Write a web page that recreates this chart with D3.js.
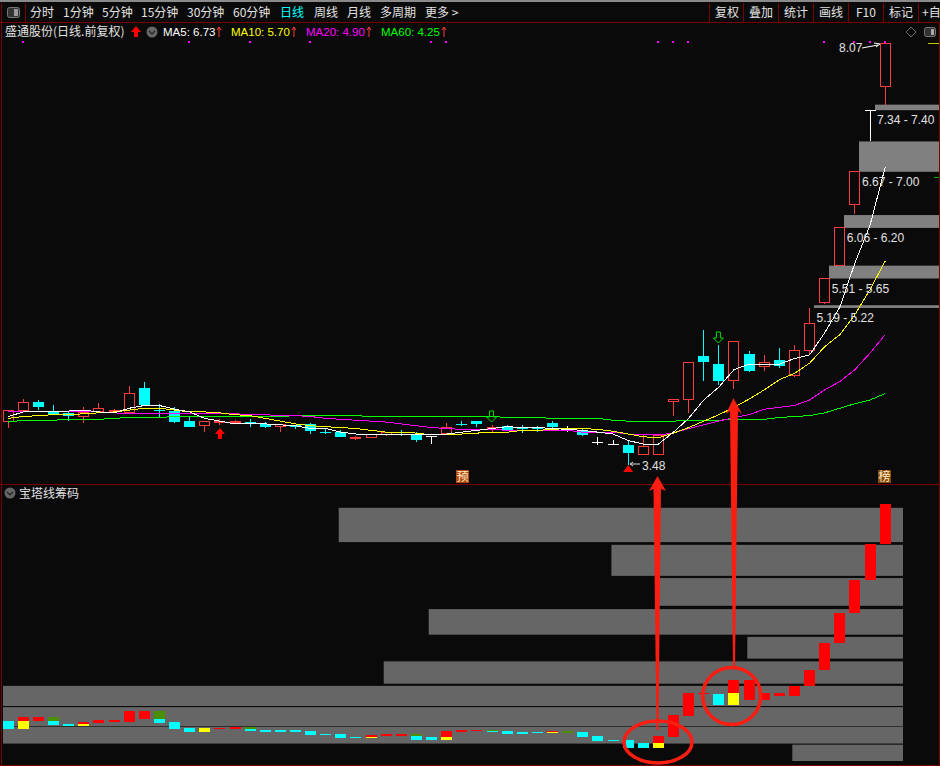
<!DOCTYPE html>
<html>
<head>
<meta charset="utf-8">
<script src="https://cdn.jsdelivr.net/npm/d3@7"></script>
<style>
  html, body { margin: 0; padding: 0; background: #0a0a0a; overflow: hidden; }
  svg { display: block; }
  text { font-family: "Liberation Sans", sans-serif; font-size: 12px; }
  .cjk { font-family: "Noto Sans CJK SC", sans-serif; }
  .ma { font-size: 11.5px; }
</style>
</head>
<body>
<script>
const width = 940,
  height = 766;

// daily candles, prices
const opens = [3.96,4.08,4.17,4.06,4.05,4.01,4.07,4.06,4.05,4.32,4.08,4.07,3.96,3.91,3.94,3.95,3.95,3.93,3.90,3.92,3.93,3.84,3.84,3.77,3.78,3.82,3.84,3.82,3.79,3.83,3.93,3.96,3.87,3.91,3.88,3.88,3.94,3.87,3.86,3.73,3.71,3.70,3.60,3.60,4.17,4.19,4.67,4.58,4.40,4.69,4.55,4.62,4.46,4.73,5.25,5.65,6.31,7.34,7.60];
const closes = [4.08,4.16,4.11,4.04,4.02,4.05,4.10,4.08,4.26,4.13,4.07,3.95,3.90,3.96,3.96,3.96,3.94,3.90,3.92,3.90,3.85,3.83,3.79,3.78,3.81,3.84,3.83,3.76,3.79,3.89,3.92,3.93,3.89,3.86,3.87,3.87,3.90,3.87,3.81,3.73,3.71,3.61,3.68,3.80,4.19,4.60,4.60,4.40,4.83,4.50,4.60,4.56,4.73,5.02,5.51,6.06,6.67,7.34,8.07];
const highs = [4.08,4.20,4.19,4.13,4.07,4.11,4.16,4.09,4.34,4.38,4.15,4.11,4.00,3.96,3.98,3.97,3.98,3.95,3.93,3.92,3.94,3.87,3.86,3.80,3.81,3.84,3.86,3.84,3.80,3.94,3.96,3.96,3.92,3.92,3.92,3.91,3.96,3.91,3.88,3.79,3.76,3.74,3.81,3.81,4.19,4.60,4.95,4.79,4.83,4.72,4.68,4.76,4.79,5.19,5.51,6.06,6.67,7.34,8.07];
const lows = [3.89,4.06,4.08,4.04,3.96,3.94,4.07,4.06,4.04,4.13,4.00,3.94,3.90,3.84,3.92,3.94,3.90,3.88,3.84,3.87,3.82,3.82,3.79,3.75,3.78,3.80,3.80,3.73,3.71,3.83,3.91,3.90,3.84,3.85,3.83,3.84,3.89,3.84,3.80,3.70,3.71,3.48,3.60,3.60,4.02,4.05,4.40,4.35,4.31,4.49,4.50,4.54,4.44,4.68,5.23,5.65,6.21,7.00,7.40];

// moving averages
const ma5 = [4.01,4.06,4.07,4.07,4.07,4.08,4.06,4.05,4.10,4.13,4.13,4.09,4.06,3.99,3.96,3.93,3.93,3.93,3.92,3.91,3.88,3.88,3.84,3.82,3.82,3.82,3.81,3.81,3.82,3.82,3.84,3.86,3.88,3.90,3.89,3.89,3.88,3.87,3.86,3.84,3.82,3.75,3.71,3.71,3.84,3.99,4.19,4.33,4.52,4.58,4.58,4.58,4.64,4.68,4.92,5.20,5.68,6.09,6.72];
const ma10 = [3.99,4.01,4.02,4.03,4.03,4.04,4.05,4.06,4.08,4.10,4.10,4.08,4.06,4.06,4.05,4.03,4.02,3.99,3.96,3.93,3.91,3.90,3.89,3.88,3.86,3.84,3.84,3.83,3.81,3.82,3.82,3.83,3.84,3.84,3.86,3.86,3.87,3.88,3.88,3.87,3.85,3.82,3.79,3.78,3.83,3.89,3.96,4.03,4.11,4.20,4.30,4.41,4.48,4.59,4.77,4.90,5.12,5.39,5.70];
const ma20 = [4.07,4.07,4.07,4.07,4.07,4.06,4.06,4.05,4.04,4.04,4.04,4.04,4.04,4.04,4.04,4.04,4.03,4.03,4.02,4.02,4.01,3.99,3.98,3.97,3.96,3.95,3.93,3.91,3.89,3.88,3.87,3.87,3.87,3.86,3.86,3.86,3.86,3.86,3.84,3.84,3.84,3.82,3.82,3.81,3.83,3.88,3.92,3.96,4.00,4.03,4.09,4.11,4.13,4.19,4.30,4.39,4.52,4.70,4.90];
const ma60 = [3.95,3.97,3.97,3.97,3.98,3.98,3.98,3.99,4.00,4.00,4.00,4.01,4.01,4.01,4.01,4.01,4.01,4.01,4.01,4.02,4.02,4.02,4.02,4.02,4.01,4.01,4.01,4.01,4.01,4.01,4.01,4.01,4.01,4.00,4.00,4.00,3.99,3.99,3.99,3.99,3.97,3.96,3.96,3.96,3.96,3.97,3.97,3.97,3.98,3.98,3.98,4.00,4.01,4.02,4.05,4.10,4.15,4.19,4.26];

// gaps marked on the price chart
const bandDay = [57,56,55,54,53];
const bandLow = [7.34,6.67,6.06,5.51,5.19];
const bandHigh = [7.40,7.00,6.20,5.65,5.22];

// days with a magenta dot along the top
const dotDays = [1,12,16,20,28,29,43,44,45,54,56,57,58];

// pagoda blocks of the lower panel: upper part high-mid, lower part mid-low
const towerHigh = [4.09,4.16,4.16,4.16,4.03,4.07,4.10,4.10,4.27,4.27,4.27,4.07,3.96,3.96,3.96,3.97,3.97,3.92,3.92,3.92,3.90,3.85,3.85,3.79,3.83,3.85,3.85,3.85,3.79,3.90,3.92,3.92,3.92,3.90,3.88,3.88,3.90,3.90,3.88,3.81,3.74,3.74,3.68,3.81,4.19,4.60,4.60,4.58,4.84,4.84,4.60,4.60,4.73,5.02,5.52,6.07,6.67,7.34,8.07];
const towerMid = [3.94,4.09,4.09,4.09,3.99,4.03,4.05,4.07,4.07,4.12,4.12,3.94,3.88,3.88,3.94,3.94,3.94,3.88,3.88,3.88,3.83,3.83,3.77,3.77,3.79,3.81,3.81,3.81,3.74,3.79,3.88,3.90,3.90,3.85,3.85,3.86,3.88,3.86,3.79,3.72,3.72,3.59,3.59,3.68,3.79,4.18,4.58,4.38,4.60,4.47,4.47,4.54,4.54,4.73,5.02,5.52,6.07,6.67,7.34];
const towerLow = [3.94,3.94,4.09,4.01,3.99,3.99,4.05,4.07,4.07,4.12,4.05,3.94,3.88,3.88,3.94,3.94,3.90,3.88,3.88,3.88,3.83,3.83,3.77,3.77,3.77,3.81,3.81,3.74,3.74,3.74,3.88,3.90,3.88,3.85,3.85,3.86,3.86,3.86,3.79,3.72,3.72,3.59,3.59,3.59,3.79,4.18,4.58,4.38,4.38,4.47,4.47,4.54,4.54,4.73,5.02,5.52,6.07,6.67,7.34];
const towerUpper = "crrgcrrrrrgccyrrgcccccccrrrgcrrrgcccrgcccccrrrrcrrrrrrrrrrr";
const towerLower = "-y-c-y----c-----c---" + "----y--c-y" + "--c---y---" + "---y----y-" + "---------";

// chip distribution behind the blocks
const chipHigh = [8.00,7.32,6.71,6.14,5.63,5.18,4.73,4.34,3.98,3.65];
const chipLow = [7.37,6.75,6.20,5.67,5.23,4.77,4.36,3.99,3.67,3.35];
const chipVolume = [62.7,32.4,27.4,52.7,17.3,57.7,100,100,100,12.3];

const menuLeft = ["分时","1分钟","5分钟","15分钟","30分钟","60分钟","日线","周线","月线","多周期","更多 >"];
const menuLeftX = [30,63,102,141,187,233,280,314,347,380,425];
const menuRight = ["复权","叠加","统计","画线","F10","标记","+自"];
const menuRightX = [715,749,784,819,856,889,922];
const menuLines = [709,743,778,813,848,883,918];

const maNames = ["MA5: 6.73","MA10: 5.70","MA20: 4.90","MA60: 4.25"];
const maColors = ["#ffffff","#ffff00","#ff00ff","#00ff00"];
const maX = [163,231,306,381];
const maArrowX = [219,294,369,444];

const tagNames = ["预","榜"];
const tagX = [456,878];
const tagColors = ["#b3490f","#8a4a08"];

const colors = { r: "#ff0000", g: "#4a8f00", c: "#00ffff", y: "#ffff00" };
const up = "#ff3c3c", bg = "#0a0a0a", mark = "#fa1e12", label = "#e2e2e2";

const svg = d3.select("body").append("svg").attr("width", width).attr("height", height);

const x = d3.scalePoint().domain(d3.range(59)).range([8.2, 885.2]);
const y = d3.scaleLinear().domain([3.48, 8.07]).range([465.3, 43]);
const towerY = d3.scaleLinear().domain([3.35, 8.07]).range([761, 504]);
const chipX = d3.scaleLinear().domain([0, 100]).range([903, 3]);

svg.append("rect").attr("width", width).attr("height", height).attr("fill", bg);

// gaps, they run to the right edge
svg.append("g").selectAll("rect").data(bandDay).join("rect")
  .attr("x", (d) => Math.floor(x(d)) + 5)
  .attr("width", (d) => 939 - Math.floor(x(d)) - 5)
  .attr("y", (d, i) => y(bandHigh[i]))
  .attr("height", (d, i) => y(bandLow[i]) - y(bandHigh[i]))
  .attr("fill", "#808080");

// candles
const candles = svg.append("g").attr("shape-rendering", "crispEdges");
d3.range(59).forEach((i) => {
  const flat = opens[i] === closes[i];
  const rising = closes[i] > opens[i];
  const color = flat ? "#ffffff" : rising ? up : "#00ffff";
  const cx = Math.floor(x(i)) + 0.5;
  const top = y(Math.max(opens[i], closes[i]));
  const bottom = y(Math.min(opens[i], closes[i]));
  candles.append("line").attr("x1", cx).attr("x2", cx).attr("y1", y(highs[i])).attr("y2", top).attr("stroke", color);
  candles.append("line").attr("x1", cx).attr("x2", cx).attr("y1", bottom).attr("y2", y(lows[i])).attr("stroke", color);
  if (flat) {
    candles.append("line").attr("x1", cx - 5.5).attr("x2", cx + 5.5).attr("y1", top).attr("y2", top).attr("stroke", color);
  } else if (rising) {
    candles.append("rect").attr("x", cx - 5).attr("width", 10).attr("y", top).attr("height", Math.max(bottom - top, 1))
      .attr("fill", bg).attr("stroke", color);
  } else {
    candles.append("rect").attr("x", cx - 5.5).attr("width", 11).attr("y", top).attr("height", Math.max(bottom - top, 1))
      .attr("fill", color);
  }
});

// lines, no smoothing so they stay stepped
const maLine = d3.line().x((d, i) => x(i)).y((d) => y(d));
[ma60, ma20, ma10, ma5].forEach((series, k) => {
  svg.append("path").attr("d", maLine(series)).attr("fill", "none")
    .attr("stroke", maColors[3 - k]).attr("shape-rendering", "crispEdges");
});

// dots along the top
svg.append("g").selectAll("rect").data(dotDays).join("rect")
  .attr("x", (d) => Math.floor(x(d)) - 1).attr("y", 41).attr("width", 2).attr("height", 2).attr("fill", "#ff00ff");

// gap labels
svg.append("g").selectAll("text").data(bandDay).join("text")
  .attr("x", (d) => x(d) + 7)
  .attr("y", (d, i) => y(bandLow[i]) + 14)
  .attr("fill", label)
  .text((d, i) => bandLow[i].toFixed(2) + " - " + bandHigh[i].toFixed(2));

// high and low notes
svg.append("text").attr("x", 839).attr("y", 52).attr("fill", label).text(d3.max(highs).toFixed(2));
svg.append("path").attr("d", "M862,48L878,45M874,43L880,44L876,47").attr("fill", "none").attr("stroke", "#fff");
svg.append("text").attr("x", 642).attr("y", 470).attr("fill", label).text(d3.min(lows).toFixed(2));
svg.append("path").attr("d", "M630,464H640M633,462L630,464L633,466").attr("fill", "none").attr("stroke", "#ddd");

// signal arrows
const bigArrow = "M0,0L5,6H2V11H-2V6H-5Z";
svg.append("path").attr("d", bigArrow).attr("fill", "#ff0000").attr("transform", `translate(${x(14)},428)`);
svg.append("path").attr("d", "M-5,7L0,0L5,7Z").attr("fill", "#ff0000").attr("transform", `translate(${x(41)},465)`);
const downArrow = "M-2,0H2V6H5L0,11L-5,6H-2Z";
[[32, 411], [47, 332]].forEach((d) => {
  svg.append("path").attr("d", downArrow).attr("fill", "none").attr("stroke", "#00e000")
    .attr("transform", `translate(${x(d[0]) - 0.5},${d[1]})`);
});

// lower panel
svg.append("g").selectAll("rect").data(chipVolume).join("rect")
  .attr("x", (d) => chipX(d))
  .attr("width", (d) => 903 - chipX(d))
  .attr("y", (d, i) => towerY(chipHigh[i]))
  .attr("height", (d, i) => towerY(chipLow[i]) - towerY(chipHigh[i]))
  .attr("fill", "#666666");

const blocks = svg.append("g").attr("shape-rendering", "crispEdges");
d3.range(59).forEach((i) => {
  const bx = Math.floor(x(i)) - 5;
  blocks.append("rect").attr("x", bx).attr("width", 11)
    .attr("y", towerY(towerHigh[i]))
    .attr("height", Math.max(towerY(towerMid[i]) - towerY(towerHigh[i]), 1))
    .attr("fill", colors[towerUpper[i]]);
  if (towerLower[i] !== "-") {
    blocks.append("rect").attr("x", bx).attr("width", 11)
      .attr("y", towerY(towerMid[i]))
      .attr("height", Math.max(towerY(towerLow[i]) - towerY(towerMid[i]), 1))
      .attr("fill", colors[towerLower[i]]);
  }
});

// panel borders
const border = svg.append("g").attr("stroke", "#7a0000").attr("shape-rendering", "crispEdges");
border.append("line").attr("x1", 0).attr("x2", width).attr("y1", 484.5).attr("y2", 484.5);
border.append("line").attr("x1", 0).attr("x2", width).attr("y1", 22.5).attr("y2", 22.5);
border.append("line").attr("x1", 0).attr("x2", width).attr("y1", 765.5).attr("y2", 765.5);
border.append("line").attr("x1", 1.5).attr("x2", 1.5).attr("y1", 3).attr("y2", height);
border.append("line").attr("x1", 939.5).attr("x2", 939.5).attr("y1", 22).attr("y2", height);
border.append("line").attr("x1", 25.5).attr("x2", 25.5).attr("y1", 3).attr("y2", 22);
menuLines.forEach((d) => border.append("line").attr("x1", d + 0.5).attr("x2", d + 0.5).attr("y1", 3).attr("y2", 22));
svg.append("rect").attr("width", width).attr("height", 2).attr("fill", "#8a8a8a");

// menu
const menu = svg.append("g");
menuLeft.forEach((d, i) => {
  menu.append("text").attr("class", "cjk").attr("x", menuLeftX[i]).attr("y", 17)
    .attr("fill", d === "日线" ? "#00ffff" : label).text(d);
});
menuRight.forEach((d, i) => {
  menu.append("text").attr("class", "cjk").attr("x", menuRightX[i]).attr("y", 17).attr("fill", label).text(d);
});
svg.append("rect").attr("x", 7.5).attr("y", 7.5).attr("width", 12).attr("height", 10).attr("rx", 2)
  .attr("fill", "#333").attr("stroke", "#777");
svg.append("rect").attr("x", 14).attr("y", 9).attr("width", 4).attr("height", 7).attr("fill", "#999");

// title row
svg.append("text").attr("class", "cjk").attr("x", 5).attr("y", 36).attr("fill", label).text("盛通股份(日线.前复权)");
svg.append("path").attr("d", bigArrow).attr("fill", "#ff0000").attr("transform", "translate(136,26)");
const chevron = (cx, cy) => {
  svg.append("circle").attr("cx", cx).attr("cy", cy).attr("r", 5.5).attr("fill", "#666");
  svg.append("path").attr("d", `M${cx - 3},${cy - 1}L${cx},${cy + 2}L${cx + 3},${cy - 1}`)
    .attr("fill", "none").attr("stroke", "#222").attr("stroke-width", 1.2);
};
chevron(152, 32);
maNames.forEach((d, i) => {
  svg.append("text").attr("class", "ma").attr("x", maX[i]).attr("y", 36).attr("fill", maColors[i]).text(d);
  svg.append("path").attr("d", `M${maArrowX[i]},37V27M${maArrowX[i] - 2},30L${maArrowX[i]},27L${maArrowX[i] + 2},30`)
    .attr("fill", "none").attr("stroke", up);
});

// corner icons and right edge ticks
svg.append("path").attr("d", "M911,27L916,32L911,37L906,32Z").attr("fill", "none").attr("stroke", "#666");
svg.append("rect").attr("x", 924.5).attr("y", 27.5).attr("width", 11).attr("height", 9).attr("rx", 2)
  .attr("fill", "#333").attr("stroke", "#777");
svg.append("rect").attr("x", 931).attr("y", 29).attr("width", 3).attr("height", 6).attr("fill", "#aaa");
svg.append("line").attr("x1", 928).attr("x2", 939).attr("y1", 43.5).attr("y2", 43.5).attr("stroke", "#c8c800");
svg.append("line").attr("x1", 934).attr("x2", 939).attr("y1", 177.5).attr("y2", 177.5).attr("stroke", "#00b000");

// tags above the panel border
tagNames.forEach((d, k) => {
  svg.append("rect").attr("x", tagX[k]).attr("y", 470).attr("width", 13).attr("height", 13).attr("fill", tagColors[k]);
  svg.append("text").attr("class", "cjk").attr("x", tagX[k] + 0.5).attr("y", 481).attr("fill", "#fff0d0").text(d);
});

// lower panel title
chevron(10, 493);
svg.append("text").attr("class", "cjk").attr("x", 19).attr("y", 498).attr("fill", label).text("宝塔线筹码");

// hand drawn marks on top of everything
const markLine = d3.line();
[
  [[657.5, 476], [666, 491], [661, 489], [658.5, 730], [656.5, 730], [653.5, 489], [649, 491]],
  [[733.5, 398], [742, 414], [738, 411], [735, 668], [733, 668], [730, 411], [726, 414]],
].forEach((d) => {
  svg.append("path").attr("d", markLine(d) + "Z").attr("fill", mark);
});
[[658, 742, 34, 21], [731.7, 696, 29, 28.5]].forEach((d) => {
  svg.append("ellipse").attr("cx", d[0]).attr("cy", d[1]).attr("rx", d[2]).attr("ry", d[3])
    .attr("fill", "none").attr("stroke", mark).attr("stroke-width", 3.5);
});
</script>
</body>
</html>
